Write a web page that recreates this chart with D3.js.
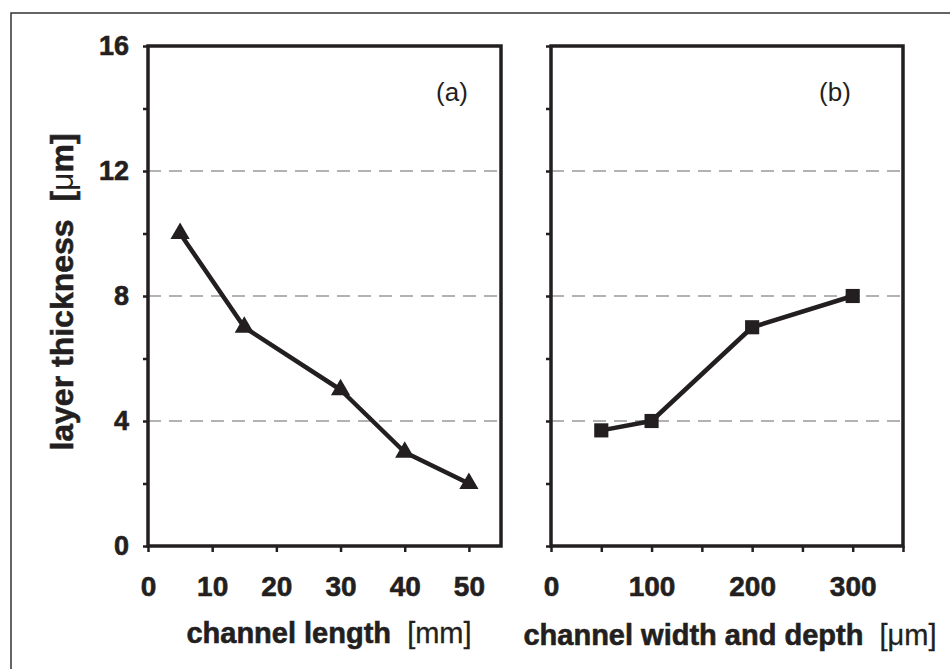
<!DOCTYPE html>
<html>
<head>
<meta charset="utf-8">
<script src="https://cdn.jsdelivr.net/npm/d3@7"></script>
<style>
  body { margin: 0; background: #fff; }
  svg { display: block; font-family: "Liberation Sans", Arial, sans-serif; }
</style>
</head>
<body>
<div id="chart"></div>
<script>
// panel (a): channel length [mm] vs layer thickness
const lengthX = [5, 15, 30, 40, 50];
const lengthY = [10, 7, 5, 3, 2];
// panel (b): channel width and depth [um] vs layer thickness
const widthX = [50, 100, 200, 300];
const widthY = [3.7, 4, 7, 8];

const yTicks = [0, 2, 4, 6, 8, 10, 12, 14, 16];
const yLabels = [0, 4, 8, 12, 16];
const gridLines = [4, 8, 12];
const xTicksA = [0, 10, 20, 30, 40, 50];
const xTicksB = [0, 50, 100, 150, 200, 250, 300, 350];
const xLabelsB = [0, 100, 200, 300];

const W = 950, H = 669;
const ink = "#231f20";

const svg = d3.select("#chart").append("svg")
  .attr("width", W).attr("height", H);

// outer frame (runs off the right and bottom edges)
svg.append("rect")
  .attr("x", 11).attr("y", 13)
  .attr("width", 1000).attr("height", 800)
  .attr("fill", "none").attr("stroke", "#333").attr("stroke-width", 1.5);

const plotTop = 46, plotBottom = 546;
const y = d3.scaleLinear().domain([0, 16]).range([plotBottom, plotTop]);

// heavier bold text, closer to the scanned look
const heavy = (sel) => sel.attr("stroke", ink).attr("stroke-width", 0.6);

function panel({ x0, x1, xDomain, xTicks, xLabels, xs, ys, marker, tag, showY }) {
  const x = d3.scaleLinear().domain(xDomain).range([x0, x1]);
  const g = svg.append("g");

  // dashed grid
  g.selectAll(".grid")
    .data(gridLines)
    .join("line")
    .attr("x1", x0).attr("x2", x1)
    .attr("y1", (d) => y(d)).attr("y2", (d) => y(d))
    .attr("stroke", "#999").attr("stroke-width", 1.5)
    .attr("stroke-dasharray", "13,8");

  // y axis
  const ya = g.append("g")
    .attr("transform", `translate(${x0},0)`)
    .call(d3.axisLeft(y).tickValues(yTicks).tickSize(5).tickPadding(14)
      .tickFormat((d) => (showY && yLabels.includes(d) ? d : "")));
  ya.select(".domain").remove();
  ya.selectAll(".tick line").attr("stroke", ink).attr("stroke-width", 2.5);
  ya.selectAll(".tick text")
    .attr("fill", ink).attr("font-size", 27).attr("font-weight", "bold")
    .call(heavy);

  // x axis
  const xa = g.append("g")
    .attr("transform", `translate(0,${plotBottom})`)
    .call(d3.axisBottom(x).tickValues(xTicks).tickSize(6).tickPadding(24)
      .tickFormat((d) => (xLabels.includes(d) ? d : "")));
  xa.select(".domain").remove();
  xa.selectAll(".tick line").attr("stroke", ink).attr("stroke-width", 2.5);
  xa.selectAll(".tick text")
    .attr("fill", ink).attr("font-size", 28).attr("font-weight", "bold")
    .call(heavy);

  // frame
  g.append("rect")
    .attr("x", x0).attr("y", plotTop)
    .attr("width", x1 - x0).attr("height", plotBottom - plotTop)
    .attr("fill", "none").attr("stroke", ink).attr("stroke-width", 3.5);

  // data line
  const pts = xs.map((v, i) => [x(v), y(ys[i])]);
  g.append("path")
    .attr("d", d3.line()(pts))
    .attr("fill", "none").attr("stroke", ink).attr("stroke-width", 4.5)
    .attr("stroke-linejoin", "round");

  g.selectAll(".mark")
    .data(pts)
    .join("path")
    .attr("transform", (d) => `translate(${d[0]},${d[1]})`)
    .attr("d", marker)
    .attr("fill", ink);

  g.append("text")
    .attr("x", tag.x).attr("y", tag.y)
    .attr("text-anchor", "middle").attr("dominant-baseline", "middle")
    .attr("font-size", 26).attr("fill", ink)
    .text(tag.text);
}

const triangle = d3.symbol(d3.symbolTriangle, 160)();
const square = d3.symbol(d3.symbolSquare, 200)();

panel({
  x0: 148, x1: 501, xDomain: [0, 55], xTicks: xTicksA, xLabels: xTicksA,
  xs: lengthX, ys: lengthY, marker: triangle,
  tag: { x: 452, y: 94, text: "(a)" }, showY: true,
});

panel({
  x0: 551, x1: 903, xDomain: [0, 350], xTicks: xTicksB, xLabels: xLabelsB,
  xs: widthX, ys: widthY, marker: square,
  tag: { x: 835, y: 94, text: "(b)" }, showY: false,
});

// axis titles
const yt = svg.append("text")
  .attr("transform", "translate(73,292) rotate(-90)")
  .attr("text-anchor", "middle")
  .attr("font-size", 32).attr("font-weight", "bold").attr("fill", ink)
  .call(heavy);
yt.append("tspan").text("layer thickness\u00a0 [");
yt.append("tspan").attr("font-weight", "normal").attr("stroke-width", 0).text("\u03bc");
yt.append("tspan").text("m]");

const xtA = svg.append("text")
  .attr("x", 329).attr("y", 643)
  .attr("text-anchor", "middle")
  .attr("font-size", 29).attr("font-weight", "bold").attr("fill", ink)
  .call(heavy);
xtA.append("tspan").text("channel length\u00a0 ");
xtA.append("tspan").attr("font-weight", "normal").attr("stroke-width", 0.3).text("[mm]");

const xtB = svg.append("text")
  .attr("x", 730).attr("y", 645)
  .attr("text-anchor", "middle")
  .attr("font-size", 29).attr("font-weight", "bold").attr("fill", ink)
  .call(heavy);
xtB.append("tspan").text("channel width and depth\u00a0 ");
xtB.append("tspan").attr("font-weight", "normal").attr("stroke-width", 0.3).text("[\u03bcm]");
</script>
</body>
</html>
